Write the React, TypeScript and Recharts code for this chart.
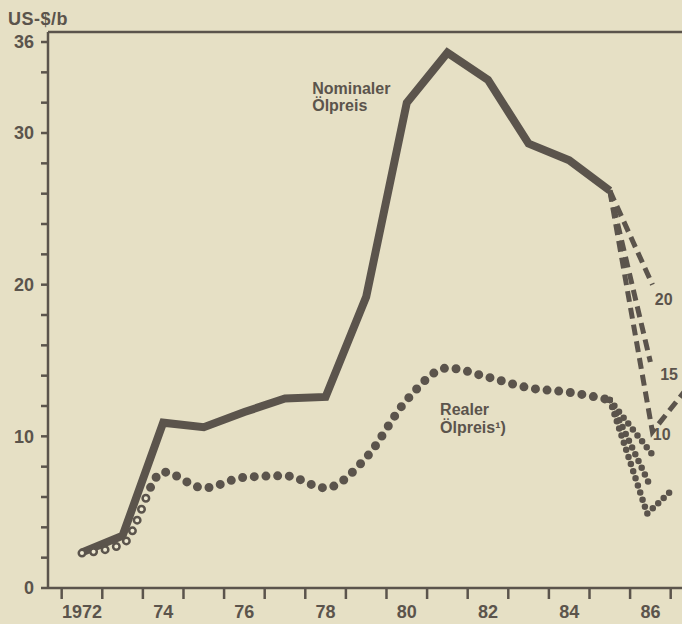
import React from 'react';
import { LineChart, Line, XAxis, YAxis, ReferenceLine, ReferenceDot } from 'recharts';

const BG = '#e6e0c5';
const INK = '#5b544c';
const HOLLOW = '#efead3';
const FONT = '"Liberation Sans", Arial, Helvetica, sans-serif';

// yearly values, plotted at mid-year
const years = [1972.5, 1973.5, 1974.5, 1975.5, 1976.5, 1977.5, 1978.5, 1979.5, 1980.5, 1981.5, 1982.5, 1983.5, 1984.5, 1985.5];
const nominalPrice = [2.35, 3.45, 10.9, 10.6, 11.6, 12.5, 12.6, 19.2, 32.0, 35.3, 33.5, 29.3, 28.2, 26.2];
const realPrice = [2.3, 2.9, 7.65, 6.6, 7.3, 7.4, 6.6, 8.6, 12.4, 14.5, 13.9, 13.2, 12.9, 12.4];

// price scenarios 20 / 15 / 10 US-$ per barrel
const nom20X = [1985.5, 1986.55];
const nom20Y = [26.2, 20.0];
const nom15X = [1985.5, 1986.5];
const nom15Y = [26.2, 14.9];
const nom10X = [1985.5, 1986.55, 1987.5];
const nom10Y = [26.2, 10.3, 13.5];
const real20X = [1985.5, 1986.55];
const real20Y = [12.4, 8.8];
const real15X = [1985.5, 1986.5];
const real15Y = [12.4, 6.7];
const real10X = [1985.5, 1986.42, 1987.05];
const real10Y = [12.4, 4.9, 6.5];

const tickYears = [1972, 1973, 1974, 1975, 1976, 1977, 1978, 1979, 1980, 1981, 1982, 1983, 1984, 1985, 1986, 1987];
const labelYears = [1972.5, 1974.5, 1976.5, 1978.5, 1980.5, 1982.5, 1984.5, 1986.5];
const yTicks = [0, 2, 4, 6, 8, 10, 12, 14, 16, 18, 20, 22, 24, 26, 28, 30, 32, 34, 36];
const yLabeled = [0, 10, 20, 30, 36];

const X_DOMAIN: [number, number] = [1971.663, 1987.968];
const Y_MAX = 36.66;

const data = years.map((x, i) => ({ x, nominal: nominalPrice[i], real: realPrice[i] }));
const toPts = (xs: number[], ys: number[]) => xs.map((x, i) => ({ x, v: ys[i] }));
const xTicks = [...tickYears, ...labelYears].sort((a, b) => a - b);

const REAL_DASH = '0 11.7';
const HOLLOW_DASH = Array(8).fill('0 11.7').join(' ') + ' 0 5000';

const XTick = (props: any) => {
  const { x, y, payload } = props;
  const v = payload.value as number;
  if (Number.isInteger(v)) {
    return <line x1={x} y1={y} x2={x} y2={y + 11} stroke={INK} strokeWidth={2.5} />;
  }
  const label = v === 1972.5 ? '1972' : String(Math.floor(v)).slice(2);
  return (
    <text x={x} y={y + 30} textAnchor="middle" fill={INK} fontSize={18} fontWeight={700} fontFamily={FONT}>
      {label}
    </text>
  );
};

const TextBlock = (props: any) => {
  const { viewBox, lines } = props;
  const x = viewBox?.x ?? 0;
  const y = viewBox?.y ?? 0;
  return (
    <g>
      {lines.map((l: string, i: number) => (
        <text key={i} x={x} y={y + i * 17.5} fill={INK} fontSize={16} fontWeight={700} fontFamily={FONT}>
          {l}
        </text>
      ))}
    </g>
  );
};

const noteDot = (x: number, y: number, lines: string[]) => (
  <ReferenceDot
    x={x}
    y={y}
    r={0}
    fill="none"
    stroke="none"
    label={(p: any) => <TextBlock {...p} lines={lines} />}
  />
);

export default function App() {
  return (
    <div style={{ position: 'absolute', left: 0, top: 0, width: 682, height: 624, overflow: 'hidden', background: BG }}>
      <div style={{ position: 'absolute', left: 8, top: 9, color: INK, fontFamily: FONT, fontWeight: 700, fontSize: 18, letterSpacing: 0.5 }}>
        US-$/b
      </div>
      <LineChart width={720} height={624} data={data} margin={{ top: 32, right: 10, bottom: 0, left: 8 }}>
        <XAxis
          type="number"
          dataKey="x"
          domain={X_DOMAIN}
          allowDataOverflow
          ticks={xTicks}
          interval={0}
          tickSize={0}
          tickMargin={0}
          height={36}
          tick={<XTick />}
          tickLine={false}
          axisLine={{ stroke: INK, strokeWidth: 2.5 }}
        />
        <YAxis
          type="number"
          domain={[0, Y_MAX]}
          allowDataOverflow
          ticks={yTicks}
          interval={0}
          width={40}
          tickSize={7}
          tickMargin={7}
          tickFormatter={(v: number) => (yLabeled.includes(v) ? String(v) : '')}
          tick={{ fill: INK, fontSize: 18, fontWeight: 700, fontFamily: FONT }}
          tickLine={{ stroke: INK, strokeWidth: 2.5 }}
          axisLine={{ stroke: INK, strokeWidth: 2.5 }}
        />
        <ReferenceLine y={Y_MAX} stroke={INK} strokeWidth={2.5} />

        <Line data={toPts(nom20X, nom20Y)} dataKey="v" type="linear" stroke={INK} strokeWidth={5} strokeDasharray="11 6" dot={false} isAnimationActive={false} />
        <Line data={toPts(nom15X, nom15Y)} dataKey="v" type="linear" stroke={INK} strokeWidth={5} strokeDasharray="11 6" dot={false} isAnimationActive={false} />
        <Line data={toPts(nom10X, nom10Y)} dataKey="v" type="linear" stroke={INK} strokeWidth={5} strokeDasharray="11 6" dot={false} isAnimationActive={false} />

        <Line data={toPts(real20X, real20Y)} dataKey="v" type="linear" stroke={INK} strokeWidth={6.5} strokeDasharray="0 7.5" strokeLinecap="round" dot={false} isAnimationActive={false} />
        <Line data={toPts(real15X, real15Y)} dataKey="v" type="linear" stroke={INK} strokeWidth={6.5} strokeDasharray="0 7.5" strokeLinecap="round" dot={false} isAnimationActive={false} />
        <Line data={toPts(real10X, real10Y)} dataKey="v" type="linear" stroke={INK} strokeWidth={6.5} strokeDasharray="0 7.5" strokeLinecap="round" dot={false} isAnimationActive={false} />

        <Line dataKey="nominal" type="linear" stroke={INK} strokeWidth={8} dot={false} isAnimationActive={false} />
        <Line dataKey="real" type="monotone" stroke={INK} strokeWidth={9} strokeDasharray={REAL_DASH} strokeLinecap="round" dot={false} isAnimationActive={false} />
        <Line dataKey="real" type="monotone" stroke={HOLLOW} strokeWidth={4} strokeDasharray={HOLLOW_DASH} strokeLinecap="round" dot={false} isAnimationActive={false} />

        {noteDot(1978.17, 32.6, ['Nominaler', 'Ölpreis'])}
        {noteDot(1981.32, 11.4, ['Realer', 'Ölpreis¹)'])}
        {noteDot(1986.61, 18.65, ['20'])}
        {noteDot(1986.74, 13.7, ['15'])}
        {noteDot(1986.56, 9.75, ['10'])}
      </LineChart>
    </div>
  );
}
